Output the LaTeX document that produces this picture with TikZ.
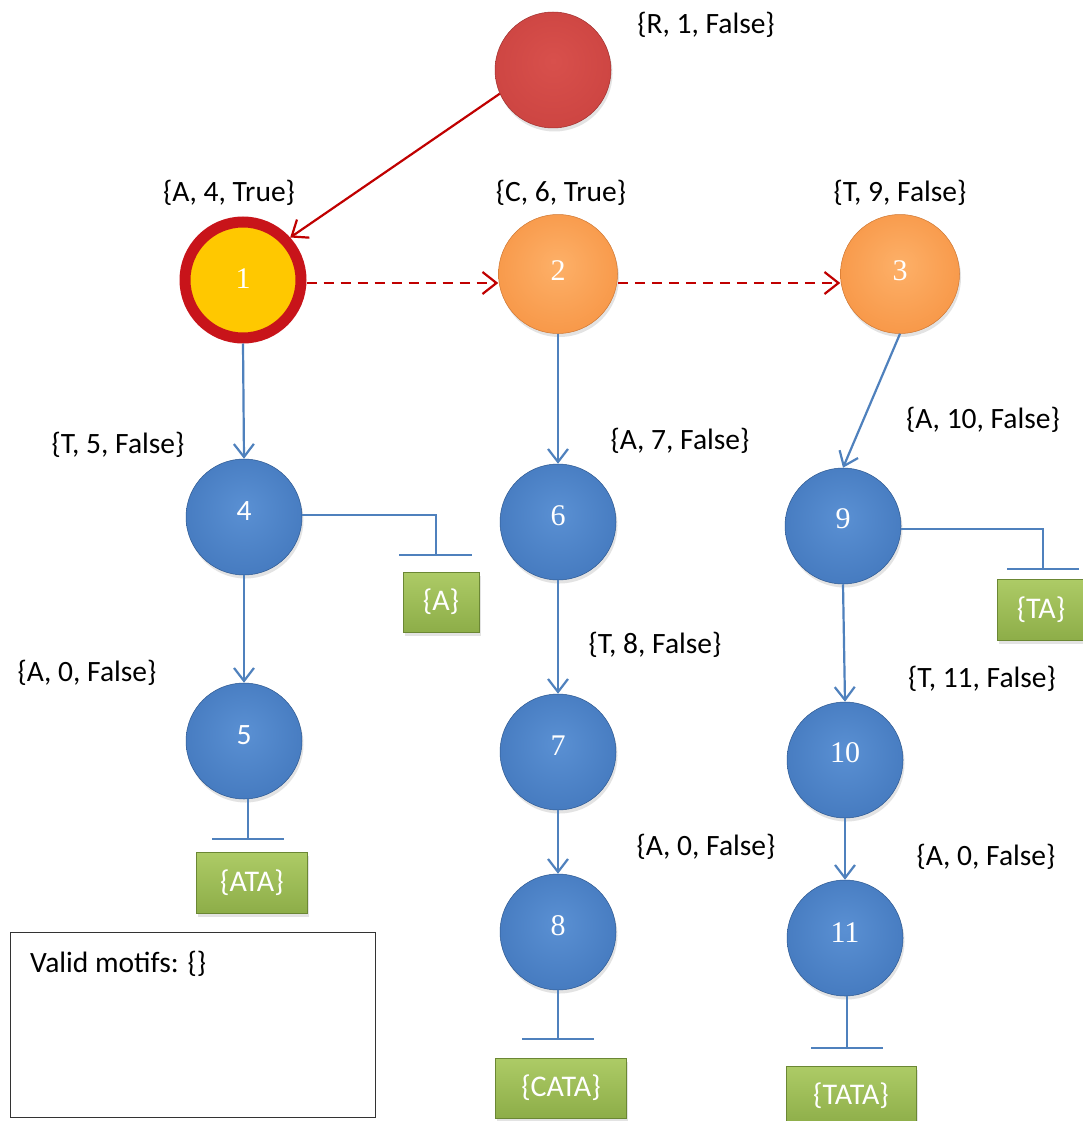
\documentclass[tikz,border=0pt]{standalone}
\usepackage{fontspec}
\setmainfont{Carlito}
\newfontfamily\numserif{Liberation Serif}
\usetikzlibrary{arrows.meta,shadows,calc}
\definecolor{bluec}{HTML}{5A90D3}
\definecolor{bluem}{HTML}{4479BE}
\definecolor{blued}{HTML}{2D5890}
\definecolor{orac}{HTML}{FDB068}
\definecolor{oram}{HTML}{F79646}
\definecolor{orad}{HTML}{CF7630}
\definecolor{redc}{HTML}{D8504C}
\definecolor{redm}{HTML}{CC4441}
\definecolor{redd}{HTML}{A02F2D}
\definecolor{ringred}{HTML}{C8141A}
\definecolor{yel}{HTML}{FFC800}
\definecolor{blueline}{HTML}{4F81BD}
\definecolor{darkred}{HTML}{C00000}
\definecolor{greent}{HTML}{ADCB66}
\definecolor{greenb}{HTML}{8DAD48}
\definecolor{greend}{HTML}{6B8734}
\pgfdeclareradialshading{blueball}{\pgfpoint{0bp}{4bp}}{color(0bp)=(bluec); color(30bp)=(bluem); color(44bp)=(bluem); color(50bp)=(blued)}
\pgfdeclareradialshading{orangeball}{\pgfpoint{0bp}{4bp}}{color(0bp)=(orac); color(30bp)=(oram); color(44bp)=(oram); color(50bp)=(orad)}
\pgfdeclareradialshading{redball}{\pgfpoint{0bp}{4bp}}{color(0bp)=(redc); color(30bp)=(redm); color(44bp)=(redm); color(50bp)=(redd)}
\begin{document}
\begin{tikzpicture}[x=1pt,y=-1pt,
  lbl/.style={font=\fontsize{29.5}{35}\selectfont, inner sep=0pt},
  shad/.style={drop shadow={opacity=0.22,shadow xshift=1.5pt,shadow yshift=-3.5pt}},
  ball/.style={circle, minimum size=116pt, inner sep=0pt, shad, text=white},
  bluenode/.style={ball, shading=blueball, draw=blued, line width=0.5pt},
  orangenode/.style={ball, minimum size=119pt, shading=orangeball, draw=orad, line width=0.5pt},
  rednode/.style={ball, shading=redball, draw=redd, line width=0.5pt},
  sernum/.style={font=\numserif\fontsize{30}{30}\selectfont},
  sansnum/.style={font=\fontsize{29.5}{30}\selectfont},
  greenbox/.style={rectangle, top color=greent, bottom color=greenb, draw=greend, line width=0.8pt, text=white, font=\fontsize{30}{35}\selectfont, shad, inner sep=0pt},
  bluearrow/.style={draw=blueline, line width=2.2pt, -{Straight Barb[length=13pt,width=20pt,line width=2.2pt]}},
  redarrow/.style={draw=darkred, line width=2.2pt, -{Straight Barb[length=14pt,width=22pt,line width=2.2pt]}},
  bluebar/.style={draw=blueline, line width=2.2pt}
]
\useasboundingbox (0,0) rectangle (1083,1121);
\fill[white] (0,0) rectangle (1083,1121);

% circles
\node[rednode] (r) at (553,70) {};
\node[circle, minimum size=116pt, inner sep=0pt, fill=yel, draw=ringred, line width=11pt, text=white, shad, sernum] (n1) at (243,280) {\raisebox{2pt}{1}};
\node[orangenode, sernum] (n2) at (558,274) {\raisebox{6pt}{2}};
\node[orangenode, sernum] (n3) at (900,274) {\raisebox{6pt}{3}};
\node[bluenode, sansnum] (n4) at (244,517) {\raisebox{12pt}{4}};
\node[bluenode, sansnum] (n5) at (244,741) {\raisebox{12pt}{5}};
\node[bluenode, sernum] (n6) at (558,522) {\raisebox{12pt}{6}};
\node[bluenode, sernum] (n7) at (558,752) {\raisebox{12pt}{7}};
\node[bluenode, sernum] (n8) at (558,932) {\raisebox{12pt}{8}};
\node[bluenode, sernum] (n9) at (843,526) {\raisebox{14pt}{9}};
\node[bluenode, sernum] (n10) at (845,760) {\raisebox{14pt}{10}};
\node[bluenode, sernum] (n11) at (845,938) {\raisebox{10pt}{11}};

% labels
\node[lbl] (lr) at (706,25) {\{R, 1, False\}};
\node[lbl] (l1) at (229,193) {\{A, 4, True\}};
\node[lbl] (l2) at (561,193) {\{C, 6, True\}};
\node[lbl] (l3) at (900,193) {\{T, 9, False\}};
\node[lbl] (l4) at (118,445) {\{T, 5, False\}};
\node[lbl] (l6) at (680,441) {\{A, 7, False\}};
\node[lbl] (l9) at (983,420) {\{A, 10, False\}};
\node[lbl] (l5) at (87,673) {\{A, 0, False\}};
\node[lbl] (l7) at (655,645) {\{T, 8, False\}};
\node[lbl] (l10) at (982,679) {\{T, 11, False\}};
\node[lbl] (l8) at (706,847) {\{A, 0, False\}};
\node[lbl] (l11) at (986,857) {\{A, 0, False\}};

% red connectors
\draw[redarrow] (r.204) -- (n1.42);
\draw[redarrow, dash pattern=on 10pt off 7pt] (n1.east |- 0,283) -- (n2.west |- 0,283);
\draw[redarrow, dash pattern=on 10pt off 7pt] (n2.east |- 0,283) -- (n3.west |- 0,283);

% blue connectors
\draw[bluearrow] (n1.south) -- (n4.north);
\draw[bluearrow] (n4.south) -- (n5.north);
\draw[bluearrow] (n2.south) -- (n6.north);
\draw[bluearrow] (n6.south) -- (n7.north);
\draw[bluearrow] (n7.south) -- (n8.north);
\draw[bluearrow] (n3.south) -- (n9.north);
\draw[bluearrow] (n9.south) -- (n10.north);
\draw[bluearrow] (n10.south) -- (n11.north);

% result boxes
\node[greenbox, minimum width=76pt, minimum height=60pt] (bA) at (441,602) {\{A\}};
\node[greenbox, minimum width=88pt, minimum height=61pt] (bTA) at (1041,610) {\{TA\}};
\node[greenbox, minimum width=111pt, minimum height=61pt] (bATA) at (252,883) {\{ATA\}};
\node[greenbox, minimum width=131pt, minimum height=60pt] (bCATA) at (561,1088) {\{CATA\}};
\node[greenbox, minimum width=130pt, minimum height=60pt] (bTATA) at (851,1096) {\{TATA\}};

% terminators
\coordinate (t4) at (436,555);
\coordinate (t9) at (1043,569);
\coordinate (t5) at (248,839);
\coordinate (t8) at (558,1039);
\coordinate (t11) at (847,1048);
\draw[bluebar] (n4.east |- 0,515) -| (t4);
\draw[bluebar] ($(t4)+(-37,0)$) -- ($(t4)+(36,0)$);
\draw[bluebar] (n9.east |- 0,529) -| (t9);
\draw[bluebar] ($(t9)+(-36,0)$) -- ($(t9)+(36,0)$);
\draw[bluebar] (t5 |- n5.south) -- (t5);
\draw[bluebar] ($(t5)+(-36,0)$) -- ($(t5)+(36,0)$);
\draw[bluebar] (t8 |- n8.south) -- (t8);
\draw[bluebar] ($(t8)+(-36,0)$) -- ($(t8)+(36,0)$);
\draw[bluebar] (t11 |- n11.south) -- (t11);
\draw[bluebar] ($(t11)+(-36,0)$) -- ($(t11)+(36,0)$);

% valid motifs box
\node[draw=black!80, line width=1pt, minimum width=365pt, minimum height=185pt, anchor=north west, inner sep=0pt] (vm) at (10,932) {};
\node[lbl, anchor=base west] (vmt) at (30,972) {Valid motifs: \{\}};
\end{tikzpicture}
\end{document}
